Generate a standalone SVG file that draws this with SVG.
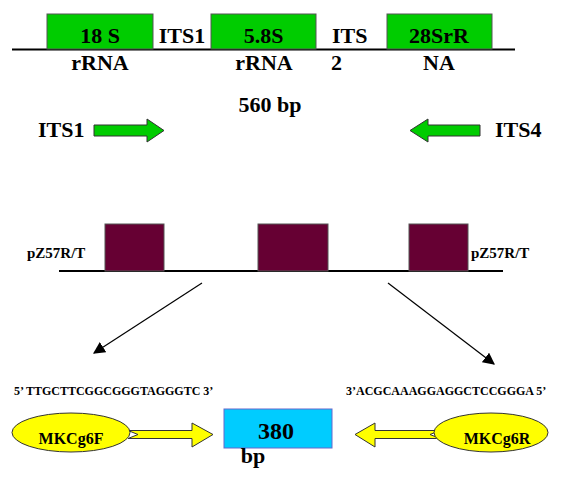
<svg xmlns="http://www.w3.org/2000/svg" width="562" height="481" viewBox="0 0 562 481">
<defs>
<style>
text{font-family:"Liberation Serif","Times New Roman",serif;font-weight:bold;fill:#000}
.big{font-size:22px}
.mid{font-size:16px}
.sm{font-size:15px}
.seq{font-size:12px}
.gbox{fill:#00cc00;stroke:#555;stroke-width:1}
.mbox{fill:#660033;stroke:#555;stroke-width:1}
.garrow{fill:#00cc00;stroke:#333;stroke-width:1}
.yarrow{fill:#ffff00;stroke:#333;stroke-width:1}
.yell{fill:#ffff00;stroke:#333;stroke-width:1}
.axis{stroke:#000;stroke-width:2}
.conn{stroke:#000;stroke-width:1.2;fill:none}
</style>
<marker id="ah" viewBox="0 0 10 10" refX="9" refY="5" markerWidth="12" markerHeight="12" markerUnits="userSpaceOnUse" orient="auto">
<path d="M0,0 L10,5 L0,10 z" fill="#000"/>
</marker>
</defs>
<rect width="562" height="481" fill="#fff"/>

<g id="rdna-line"><line class="axis" x1="12" y1="49.5" x2="515" y2="49.5"/></g>
<g id="n18S"><rect class="gbox" x="47" y="14" width="106" height="35"/><text class="big" x="100" y="43" text-anchor="middle">18 S</text><text class="big" x="100" y="70" text-anchor="middle">rRNA</text></g>
<g id="nITS1"><text class="big" x="182" y="43" text-anchor="middle">ITS1</text></g>
<g id="n58S"><rect class="gbox" x="211" y="14" width="105" height="35"/><text class="big" x="263.5" y="43" text-anchor="middle">5.8S</text><text class="big" x="264" y="70" text-anchor="middle">rRNA</text></g>
<g id="nITS2"><text class="big" x="332" y="43">ITS</text><text class="big" x="331" y="70">2</text></g>
<g id="n28S"><rect class="gbox" x="387" y="14" width="105" height="35"/><text class="big" x="439" y="43" text-anchor="middle">28SrR</text><text class="big" x="439" y="70" text-anchor="middle">NA</text></g>
<g id="n560"><text class="big" x="270" y="112" text-anchor="middle">560 bp</text></g>
<g id="pITS1"><text class="big" x="38" y="137">ITS1</text><polygon class="garrow" points="94,125 147,125 147,119 164,130.5 147,142 147,136 94,136"/></g>
<g id="pITS4"><text class="big" x="495" y="137">ITS4</text><polygon class="garrow" points="480,125 428,125 428,119 410,130.5 428,142 428,136 480,136"/></g>

<g id="plasmid-line"><line class="axis" x1="59" y1="271" x2="503" y2="271"/></g>
<g id="pZ-left"><text class="sm" x="27" y="258">pZ57R/T</text></g>
<g id="pZ-right"><text class="sm" x="471" y="258">pZ57R/T</text></g>
<g id="m1"><rect class="mbox" x="105" y="224" width="59" height="47"/></g>
<g id="m2"><rect class="mbox" x="258" y="224" width="70" height="47"/></g>
<g id="m3"><rect class="mbox" x="409" y="224" width="59" height="47"/></g>

<g id="connectors">
<line class="conn" x1="202" y1="283" x2="94" y2="353" marker-end="url(#ah)"/>
<line class="conn" x1="388" y1="283" x2="494" y2="364" marker-end="url(#ah)"/>
</g>

<g id="seqF"><text class="seq" x="14" y="395">5’ TTGCTTCGGCGGGTAGGGTC 3’</text></g>
<g id="seqR"><text class="seq" x="346" y="395">3’ACGCAAAGGAGGCTCCGGGA 5’</text></g>
<g id="MKCg6F"><polygon class="yarrow" points="128,430.5 192,430.5 192,423 213,434.5 192,447 192,438.5 128,438.5 138,434.5"/><ellipse class="yell" cx="71" cy="432.5" rx="59" ry="19.5"/><text class="mid" x="71" y="444" text-anchor="middle">MKCg6F</text></g>
<g id="MKCg6R"><polygon class="yarrow" points="440,430.5 375,430.5 375,423 355,434.5 375,447 375,438.5 440,438.5 430,434.5"/><ellipse class="yell" cx="491" cy="432.5" rx="57" ry="19.5"/><text class="mid" x="497" y="444" text-anchor="middle">MKCg6R</text></g>
<g id="p380"><rect x="224" y="409" width="108" height="39" fill="#00ccff" stroke="#6666cc" stroke-width="1"/><text x="276" y="439" text-anchor="middle" style="font-size:24px">380</text><text class="big" x="253" y="463" text-anchor="middle">bp</text></g>
</svg>
